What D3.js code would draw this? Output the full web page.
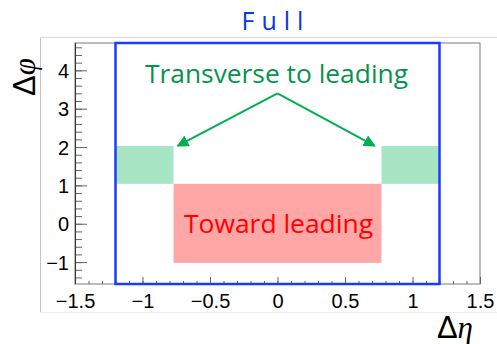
<!DOCTYPE html>
<html>
<head>
<meta charset="utf-8">
<script src="https://cdn.jsdelivr.net/npm/d3@7"></script>
<style>
  html, body { margin: 0; padding: 0; background: #fff; }
  svg { display: block; }
</style>
</head>
<body>
<svg id="chart" width="497" height="344"></svg>
<script>
// Δη × Δφ acceptance regions
const etaTicks = [-1.5, -1, -0.5, 0, 0.5, 1, 1.5];
const phiTicks = [-1, 0, 1, 2, 3, 4];
const etaRange = [-1.5, 1.5];
const phiRange = [-Math.PI / 2, 3 * Math.PI / 2];

const fullEta = [-1.2, 1.2];
const towardEta = [-0.77, 0.77];
const towardPhi = [-1.02, 1.04];
const transverseEtaLeft = [-1.2, -0.77];
const transverseEtaRight = [0.77, 1.2];
const transversePhi = [1.04, 2.03];
// arrow apex and the two arrow tips, in (Δη, Δφ)
const arrowApex = [0, 3.40];
const arrowTips = [[-0.74, 2.03], [0.72, 2.03]];

const svg = d3.select("#chart");
const W = 497, H = 344;
const plot = { left: 75, right: 480, top: 43, bottom: 284 };

const x = d3.scaleLinear().domain(etaRange).range([plot.left, plot.right]);
const y = d3.scaleLinear().domain(phiRange).range([plot.bottom, plot.top]);

// outer canvas frame
const frame = svg.append("g").attr("fill", "none").attr("stroke-width", 1);
frame.append("line").attr("x1", 40.5).attr("x2", 40.5).attr("y1", 37).attr("y2", 313).attr("stroke", "#c4c4c4");
frame.append("line").attr("x1", 40).attr("x2", W).attr("y1", 37.5).attr("y2", 37.5).attr("stroke", "#d8d8d8");
frame.append("line").attr("x1", 40).attr("x2", W).attr("y1", 312.5).attr("y2", 312.5).attr("stroke", "#ececec");

// filled regions
function rect(g, eta, phi, fill) {
  g.append("rect")
    .attr("x", x(eta[0])).attr("width", x(eta[1]) - x(eta[0]))
    .attr("y", y(phi[1])).attr("height", y(phi[0]) - y(phi[1]))
    .attr("fill", fill);
}
const regions = svg.append("g");
rect(regions, towardEta, towardPhi, "#ffa6a6");
rect(regions, transverseEtaLeft, transversePhi, "#a8e5c5");
rect(regions, transverseEtaRight, transversePhi, "#a8e5c5");

// axes frame
svg.append("rect")
  .attr("x", plot.left).attr("y", plot.top)
  .attr("width", plot.right - plot.left).attr("height", plot.bottom - plot.top)
  .attr("fill", "none").attr("stroke", "#7a7a7a").attr("stroke-width", 1);

const tickColor = "#666";
const labelFont = "'Liberation Sans', Arial, sans-serif";

// x axis: major ticks every 0.5, minor every 0.1, pointing inward
const etaMinor = d3.range(-15, 16).map(d => d / 10);
const xMinor = svg.append("g").attr("transform", `translate(0,${plot.bottom})`)
  .call(d3.axisBottom(x).tickValues(etaMinor).tickSize(-3).tickFormat(""));
const xMajor = svg.append("g").attr("transform", `translate(0,${plot.bottom})`)
  .call(d3.axisBottom(x).tickValues(etaTicks).tickSizeInner(-7).tickSizeOuter(0).tickPadding(10)
    .tickFormat(d3.format("")));

// y axis: major ticks every 1, minor every 0.2
const phiMinor = d3.range(-7, 24).map(d => d / 5).filter(d => d >= phiRange[0] && d <= phiRange[1]);
const yMinor = svg.append("g").attr("transform", `translate(${plot.left},0)`)
  .call(d3.axisLeft(y).tickValues(phiMinor).tickSize(-7).tickFormat(""));
const yMajor = svg.append("g").attr("transform", `translate(${plot.left},0)`)
  .call(d3.axisLeft(y).tickValues(phiTicks).tickSizeInner(-12).tickSizeOuter(0).tickPadding(6)
    .tickFormat(d3.format("")));

[xMinor, xMajor, yMinor, yMajor].forEach(g => {
  g.select(".domain").remove();
  g.selectAll(".tick line").attr("stroke", tickColor);
  g.selectAll("text").attr("font-family", labelFont).attr("font-size", 20).attr("fill", "#000");
});
yMajor.selectAll("text").attr("dy", "0.35em");
svg.append("line").attr("x1", plot.left + 0.5).attr("x2", plot.left + 0.5)
  .attr("y1", plot.top).attr("y2", plot.bottom).attr("stroke", "#333");

// "Full" region outline
svg.append("rect")
  .attr("x", x(fullEta[0])).attr("width", x(fullEta[1]) - x(fullEta[0]))
  .attr("y", y(phiRange[1])).attr("height", y(phiRange[0]) - y(phiRange[1]))
  .attr("fill", "none").attr("stroke", "#1a3cff").attr("stroke-width", 2.5);

// arrows
const arrowColor = "#00b050";
const defs = svg.append("defs");
defs.append("marker").attr("id", "head")
  .attr("viewBox", "0 0 10 10").attr("refX", 9).attr("refY", 5)
  .attr("markerWidth", 6).attr("markerHeight", 6).attr("markerUnits", "strokeWidth")
  .attr("orient", "auto")
  .append("path").attr("d", "M0,0 L10,5 L0,10 Z").attr("fill", arrowColor);
arrowTips.forEach(t => {
  svg.append("line")
    .attr("x1", x(arrowApex[0])).attr("y1", y(arrowApex[1]))
    .attr("x2", x(t[0])).attr("y2", y(t[1]))
    .attr("stroke", arrowColor).attr("stroke-width", 2)
    .attr("marker-end", "url(#head)");
});

// texts
const textFont = "'Open Sans', Lato, sans-serif";
svg.append("text").attr("x", 276).attr("y", 30).attr("text-anchor", "middle")
  .attr("font-family", textFont).attr("font-size", 25).attr("letter-spacing", 7)
  .attr("fill", "#0a35f0").text("Full");

svg.append("text").attr("x", 145).attr("y", 83)
  .attr("font-family", textFont).attr("font-size", 25)
  .attr("textLength", 263).attr("lengthAdjust", "spacingAndGlyphs")
  .attr("fill", "#06934f").text("Transverse to leading");

svg.append("text").attr("x", 184).attr("y", 233)
  .attr("font-family", textFont).attr("font-size", 26)
  .attr("textLength", 189).attr("lengthAdjust", "spacingAndGlyphs")
  .attr("fill", "#ff0000").text("Toward leading");

// axis titles
const yTitle = svg.append("text")
  .attr("transform", "translate(35,77) rotate(-90)")
  .attr("text-anchor", "middle").attr("font-size", 31).attr("fill", "#000");
yTitle.append("tspan").attr("font-family", labelFont).text("Δ");
yTitle.append("tspan").attr("font-family", "'Liberation Serif', serif").attr("font-style", "italic").text("φ");

const xTitle = svg.append("text")
  .attr("x", 473).attr("y", 338)
  .attr("text-anchor", "end").attr("font-size", 31).attr("fill", "#000");
xTitle.append("tspan").attr("font-family", labelFont).text("Δ");
xTitle.append("tspan").attr("font-family", "'Liberation Serif', serif").attr("font-style", "italic").text("η");
</script>
</body>
</html>
